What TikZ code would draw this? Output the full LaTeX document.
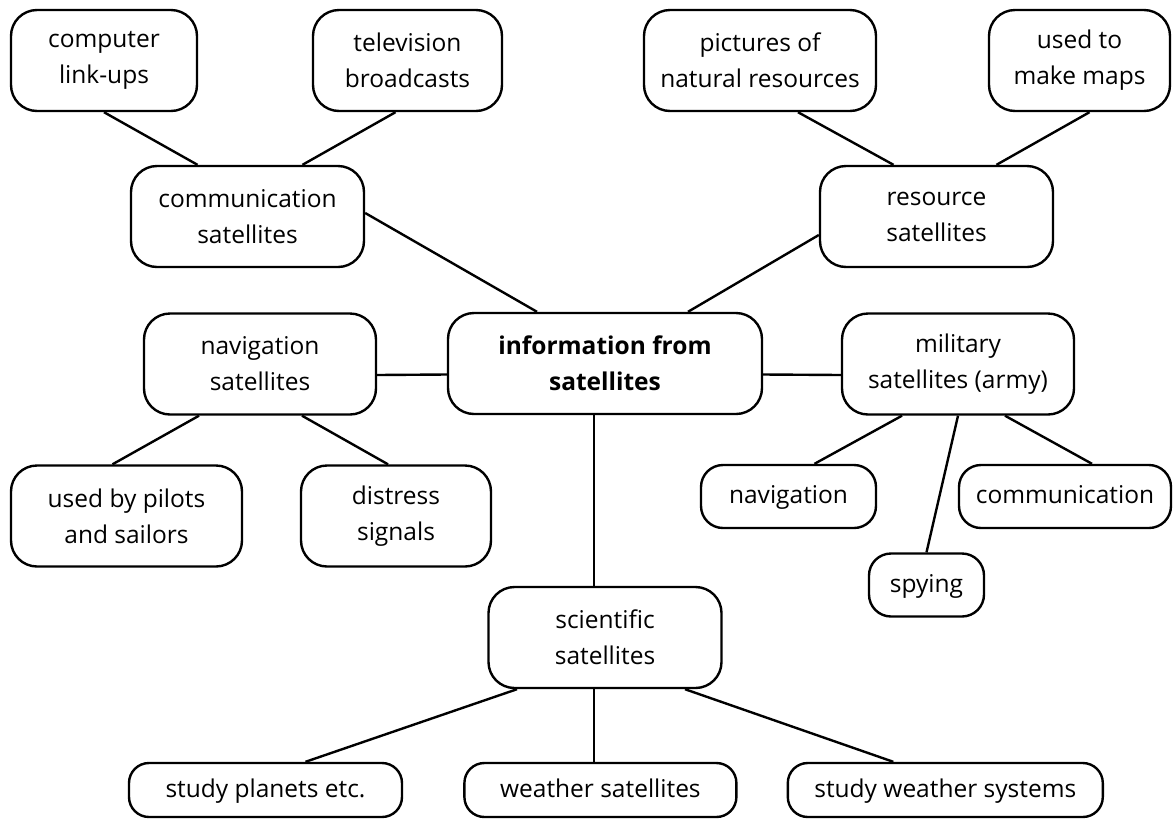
\documentclass[tikz,border=0pt]{standalone}
\usepackage{fontspec}
\setmainfont{Open Sans}
\usetikzlibrary{positioning}
\tikzset{bubble/.style={rectangle,draw=black,fill=white,line width=2.4pt,
rounded corners=26pt,align=center,inner sep=2pt,minimum height=101pt,
font=\fontsize{24.5}{36}\selectfont}}
\tikzset{bubbleflat/.style={bubble,rounded corners=22pt,minimum height=63pt,
text height=20pt,text depth=6pt}}
\tikzset{bubblelow/.style={bubble,rounded corners=20pt,minimum height=54pt,
text height=20pt,text depth=6pt}}
\tikzset{branch/.style={line width=2.4pt}}

\begin{document}
\begin{tikzpicture}[x=1pt,y=-1pt]
        \useasboundingbox (0,0) rectangle (1173,820);

        \node[bubble,minimum width=314pt,font=\fontsize{24.5}{36}\selectfont\bfseries] (info) at (605,363.5) {information from\\satellites};

        \node[bubble,minimum width=233pt] (commsat) at (247.5,216.5) {communication\\satellites};
        \node[bubble,minimum width=233pt] (ressat) at (936.5,216.5) {resource\\satellites};
        \node[bubble,minimum width=232pt] (navsat) at (260,364) {navigation\\satellites};
        \node[bubble,minimum width=232pt] (milsat) at (958,364) {military\\satellites (army)};
        \node[bubble,minimum width=233pt] (scisat) at (605,637.5) {scientific\\satellites};

        \node[bubble,minimum width=186pt] (complink) at (104,60.5) {computer\\link-ups};
        \node[bubble,minimum width=189pt] (tvcast) at (407.5,60.5) {television\\broadcasts};
        \node[bubble,minimum width=232pt] (natres) at (760,60.5) {pictures of\\natural resources};
        \node[bubble,minimum width=181pt] (makemaps) at (1079.5,60.5) {used to\\make maps};

        \node[bubble,minimum width=231pt] (pilots) at (126.5,516) {used by pilots\\and sailors};
        \node[bubble,minimum width=190pt] (distress) at (396,516) {distress\\signals};

        \node[bubbleflat,minimum width=175pt] (milnav) at (788.5,496.5) {navigation};
        \node[bubbleflat,minimum width=212pt] (milcomm) at (1065,496.5) {communication};
        \node[bubbleflat,minimum width=115pt] (spying) at (926.5,585) {spying};

        \node[bubblelow,minimum width=273pt] (planets) at (265.5,790) {study planets etc.};
        \node[bubblelow,minimum width=272pt] (weather) [right=60pt of planets] {weather satellites};
        \node[bubblelow,minimum width=315pt] (systems) [right=49pt of weather] {study weather systems};

        \draw[branch] (complink.south) -- ([xshift=-50pt]commsat.north);
        \draw[branch] ([xshift=-12pt]tvcast.south) -- ([xshift=55pt]commsat.north);
        \draw[branch] ([xshift=38pt]natres.south) -- ([xshift=-43pt]ressat.north);
        \draw[branch] ([xshift=10pt]makemaps.south) -- ([xshift=60pt]ressat.north);

        \draw[branch] ([yshift=3.5pt]commsat.east) -- ([xshift=-68pt]info.north);
        \draw[branch] ([yshift=-18.5pt]ressat.west) -- ([xshift=83pt]info.north);
        \draw[branch] ([yshift=-11pt]navsat.east) -- ([yshift=-11pt]info.west);
        \draw[branch] ([yshift=-11pt]info.east) -- ([yshift=-11pt]milsat.west);
        \draw[branch] ([xshift=-11pt]info.south) -- ([xshift=-11pt]scisat.north);

        \draw[branch] ([xshift=-61pt]navsat.south) -- ([xshift=-14pt]pilots.north);
        \draw[branch] ([xshift=42pt]navsat.south) -- ([xshift=-8pt]distress.north);

        \draw[branch] ([xshift=-56pt]milsat.south) -- ([xshift=26pt]milnav.north);
        \draw[branch] (milsat.south) -- (spying.north);
        \draw[branch] ([xshift=47pt]milsat.south) -- ([xshift=27pt]milcomm.north);

        \draw[branch] ([xshift=-88pt]scisat.south) -- ([xshift=40pt]planets.north);
        \draw[branch] ([xshift=-11pt]scisat.south) -- ([xshift=-11pt]scisat.south |- weather.north);
        \draw[branch] ([xshift=80pt]scisat.south) -- ([xshift=-52pt]systems.north);

    \end{tikzpicture}
\end{document}
